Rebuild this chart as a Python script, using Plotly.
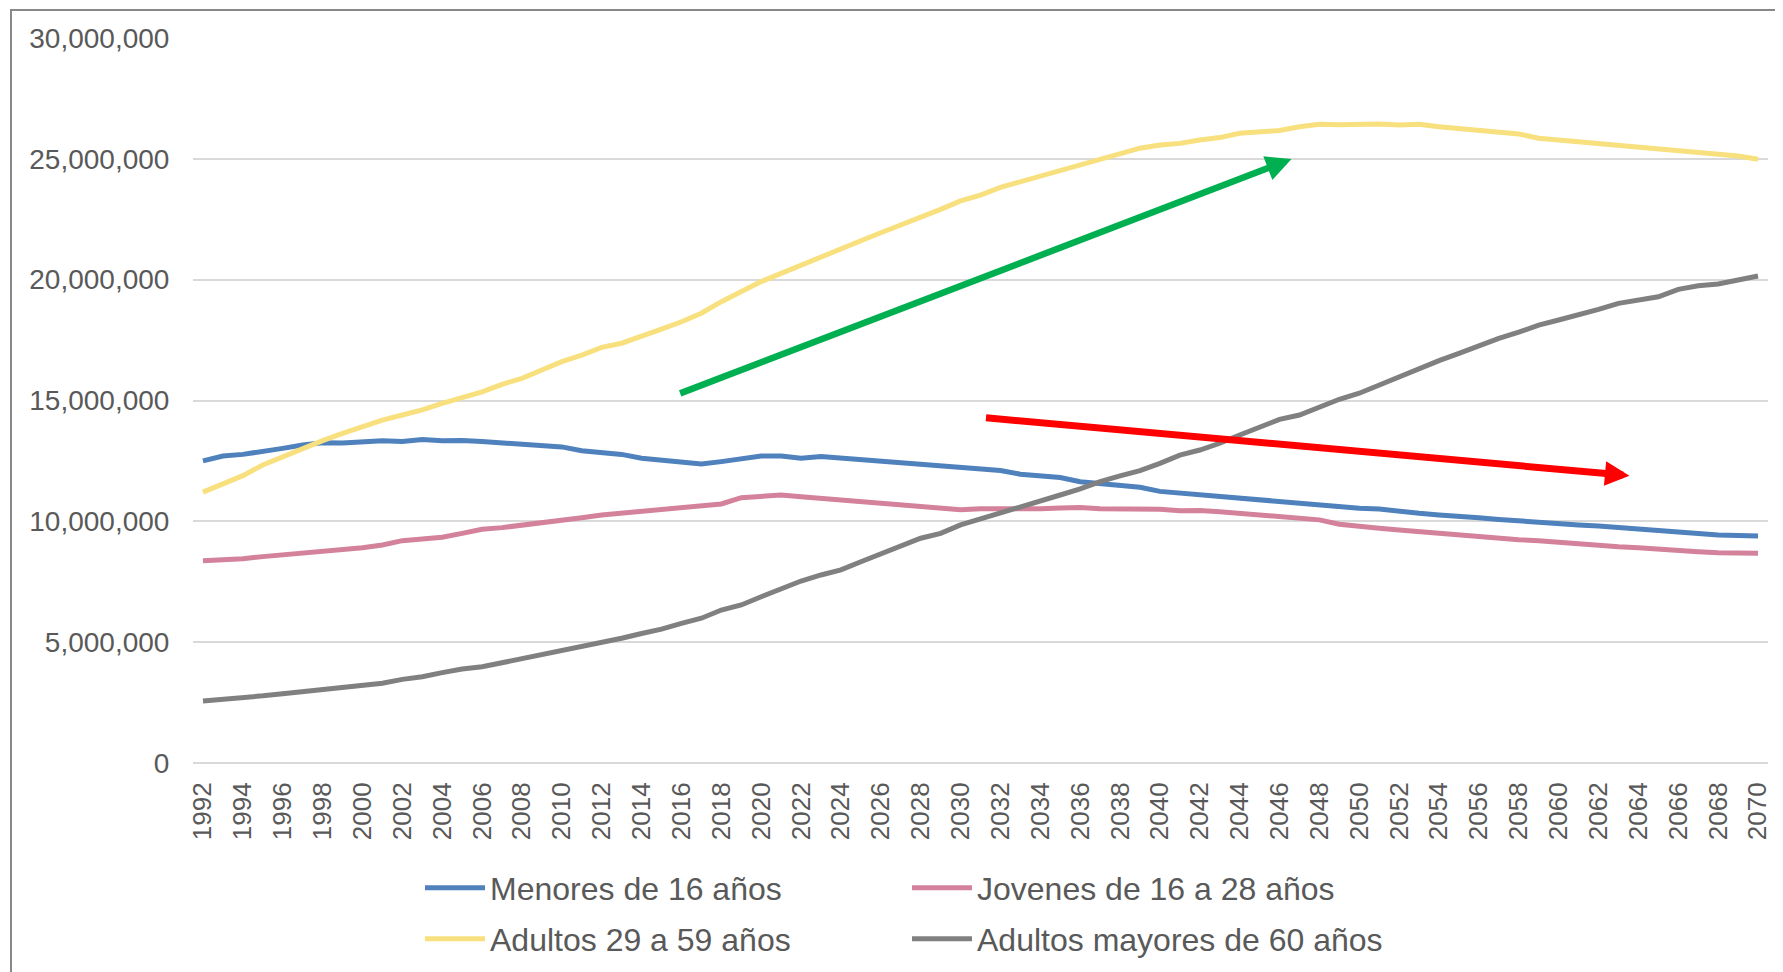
import plotly.graph_objects as go

years = list(range(1992, 2071))

# values in millions of people
menores = [12.50, 12.70, 12.77, 12.92, 13.02, 13.16, 13.25, 13.24, 13.30, 13.33,
           13.30, 13.39, 13.33, 13.35, 13.30, 13.25, 13.22, 13.16, 13.08, 12.92,
           12.84, 12.77, 12.61, 12.54, 12.47, 12.37, 12.47, 12.61, 12.70, 12.70,
           12.61, 12.68, 12.61, 12.54, 12.48, 12.43, 12.37, 12.30, 12.23, 12.17,
           12.10, 11.95, 11.88, 11.81, 11.64, 11.56, 11.49, 11.41, 11.24, 11.17,
           11.11, 11.02, 10.94, 10.85, 10.81, 10.74, 10.68, 10.61, 10.54, 10.51,
           10.40, 10.33, 10.26, 10.22, 10.15, 10.08, 10.01, 9.98, 9.92, 9.85,
           9.81, 9.74, 9.67, 9.60, 9.57, 9.50, 9.43, 9.41, 9.39]

jovenes = [8.37, 8.40, 8.45, 8.54, 8.61, 8.68, 8.74, 8.83, 8.91, 9.02,
           9.20, 9.27, 9.34, 9.50, 9.67, 9.74, 9.83, 9.97, 10.06, 10.15,
           10.26, 10.33, 10.40, 10.47, 10.54, 10.61, 10.72, 10.98, 11.02, 11.09,
           11.02, 10.95, 10.88, 10.81, 10.74, 10.69, 10.61, 10.54, 10.48, 10.52,
           10.51, 10.51, 10.52, 10.55, 10.57, 10.52, 10.52, 10.55, 10.50, 10.44,
           10.45, 10.40, 10.33, 10.26, 10.19, 10.12, 10.06, 9.88, 9.78, 9.71,
           9.64, 9.57, 9.50, 9.45, 9.38, 9.31, 9.24, 9.20, 9.13, 9.06,
           9.02, 8.95, 8.91, 8.84, 8.79, 8.74, 8.70, 8.68, 8.68]

adultos = [11.21, 11.57, 11.89, 12.33, 12.68, 12.99, 13.34, 13.64, 13.92, 14.19,
           14.40, 14.61, 14.88, 15.13, 15.36, 15.67, 15.92, 16.26, 16.61, 16.88,
           17.20, 17.37, 17.64, 17.95, 18.26, 18.61, 19.09, 19.53, 19.92, 20.26,
           20.61, 20.91, 21.30, 21.61, 21.94, 22.25, 22.61, 22.91, 23.26, 23.50,
           23.82, 24.05, 24.30, 24.54, 24.79, 25.02, 25.20, 25.44, 25.57, 25.64,
           25.78, 25.88, 26.06, 26.10, 26.17, 26.33, 26.43, 26.41, 26.44, 26.44,
           26.40, 26.43, 26.33, 26.26, 26.19, 26.12, 26.03, 25.85, 25.78, 25.71,
           25.64, 25.57, 25.50, 25.44, 25.37, 25.30, 25.20, 25.12, 24.98]

mayores = [2.57, 2.63, 2.72, 2.78, 2.87, 2.95, 3.02, 3.10, 3.19, 3.30,
           3.46, 3.57, 3.74, 3.89, 3.98, 4.15, 4.31, 4.47, 4.62, 4.80,
           4.97, 5.16, 5.36, 5.54, 5.78, 5.99, 6.33, 6.54, 6.88, 7.23,
           7.53, 7.78, 7.99, 8.33, 8.65, 8.95, 9.30, 9.50, 9.85, 10.10,
           10.36, 10.61, 10.88, 11.09, 11.34, 11.64, 11.88, 12.10, 12.40, 12.74,
           12.95, 13.23, 13.57, 13.89, 14.22, 14.40, 14.72, 15.05, 15.30, 15.64,
           15.99, 16.33, 16.65, 16.95, 17.27, 17.57, 17.83, 18.12, 18.33, 18.54,
           18.77, 19.02, 19.16, 19.29, 19.60, 19.75, 19.82, 19.99, 20.15]

names = ["Menores de 16 años", "Jovenes de 16 a 28 años",
         "Adultos 29 a 59 años", "Adultos mayores de 60 años"]
colors = ["#4F81BD", "#D4819B", "#F7E07D", "#808080"]
series = [menores, jovenes, adultos, mayores]
legends = ["legend", "legend2", "legend3", "legend4"]

# trend arrows: (start year, start value, end year, end value) in millions
arrow_up = (2015.86, 15.27, 2046.6, 24.99)
arrow_down = (2031.2, 14.29, 2063.55, 11.89)

TEXT = "#595959"
FONT = "Liberation Sans, Arial, sans-serif"

# page body has an 8px default margin: the figure is drawn 8px in and down
OFF = 8
W, H = 1783 - OFF, 972 - OFF
L, R, T, B = 193 - OFF, 15, 38 - OFF, 209
pw, ph = W - L - R, H - T - B


def px(x):
    return (x - OFF - L) / pw


def py(y):
    return (H - B - (y - OFF)) / ph


fig = go.Figure()
for name, col, vals, lg in zip(names, colors, series, legends):
    fig.add_trace(go.Scatter(
        x=years, y=[v * 1e6 for v in vals], mode="lines", name=name,
        line=dict(color=col, width=5), legend=lg))

for (x0, y0, x1, y1), col, w, sz in [(arrow_up, "#00B050", 6.5, 0.78),
                                     (arrow_down, "#FF0000", 7, 0.7)]:
    fig.add_annotation(x=x1, y=y1 * 1e6, ax=x0, ay=y0 * 1e6,
                       xref="x", yref="y", axref="x", ayref="y",
                       text="", showarrow=True, arrowhead=2,
                       arrowsize=sz, arrowwidth=w, arrowcolor=col)

# outer chart frame (left & top visible)
fig.add_shape(type="rect", xref="paper", yref="paper",
              x0=px(11), x1=1.2, y0=py(10), y1=-0.5,
              line=dict(color="#888888", width=2), fillcolor="rgba(0,0,0,0)",
              layer="below")

leg_common = dict(orientation="v", xanchor="left", yanchor="middle",
                  font=dict(size=32, color=TEXT, family=FONT),
                  bgcolor="rgba(0,0,0,0)", itemwidth=60)
layout_legends = {
    "legend": dict(x=px(420), y=py(888), **leg_common),
    "legend2": dict(x=px(907), y=py(888), **leg_common),
    "legend3": dict(x=px(420), y=py(939), **leg_common),
    "legend4": dict(x=px(907), y=py(939), **leg_common),
}

fig.update_layout(
    width=W, height=H,
    margin=dict(l=L, r=R, t=T, b=B, autoexpand=False),
    paper_bgcolor="white", plot_bgcolor="white",
    font=dict(family=FONT, color=TEXT),
    showlegend=True,
    **layout_legends,
)
fig.update_xaxes(range=[1991.5, 2070.5], tick0=1992, dtick=2, tickangle=-90,
                 showgrid=False, zeroline=False, showline=False,
                 ticks="outside", ticklen=8, tickcolor="rgba(0,0,0,0)",
                 tickfont=dict(size=26, color=TEXT, family=FONT))
fig.update_yaxes(range=[0, 30e6], dtick=5e6, tickformat=",d",
                 showgrid=True, gridcolor="#D9D9D9", gridwidth=1.5,
                 zeroline=True, zerolinecolor="#D9D9D9", zerolinewidth=1.5,
                 showline=False, ticks="outside", ticklen=17,
                 tickcolor="rgba(0,0,0,0)",
                 tickfont=dict(size=28, color=TEXT, family=FONT))

fig.write_html("out.html")
